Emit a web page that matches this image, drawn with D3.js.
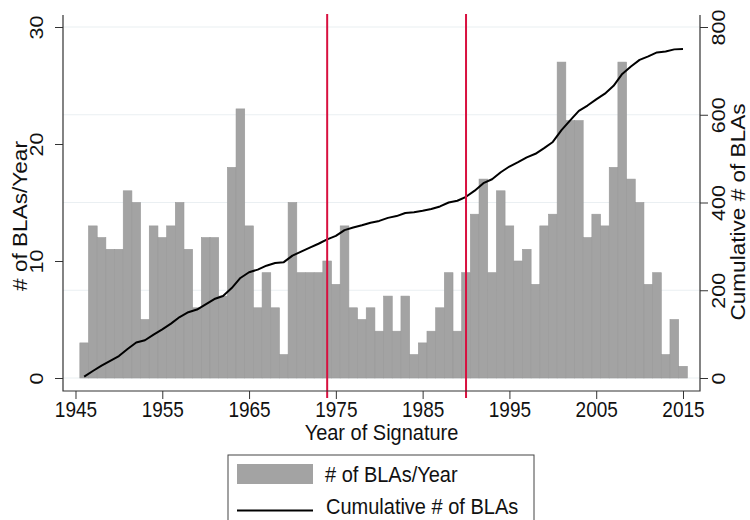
<!DOCTYPE html>
<html>
<head>
<meta charset="utf-8">
<script src="https://cdn.jsdelivr.net/npm/d3@7"></script>
<style>
   body { margin: 0; background: #fff; }
   text { font-family: "Liberation Sans", Arial, sans-serif; fill: #111; }
</style>
</head>
<body>
<div class="chart"></div>
<script>
// ======================================
// Data
// ======================================
var years = [1946, 1947, 1948, 1949, 1950, 1951, 1952, 1953, 1954, 1955,
   1956, 1957, 1958, 1959, 1960, 1961, 1962, 1963, 1964, 1965,
   1966, 1967, 1968, 1969, 1970, 1971, 1972, 1973, 1974, 1975,
   1976, 1977, 1978, 1979, 1980, 1981, 1982, 1983, 1984, 1985,
   1986, 1987, 1988, 1989, 1990, 1991, 1992, 1993, 1994, 1995,
   1996, 1997, 1998, 1999, 2000, 2001, 2002, 2003, 2004, 2005,
   2006, 2007, 2008, 2009, 2010, 2011, 2012, 2013, 2014, 2015];

var perYear = [3, 13, 12, 11, 11, 16, 15, 5, 13, 12,
   13, 15, 11, 6, 12, 12, 7, 18, 23, 13,
   6, 9, 6, 2, 15, 9, 9, 9, 10, 8,
   13, 6, 5, 6, 4, 7, 4, 7, 2, 3,
   4, 6, 9, 4, 9, 14, 17, 9, 16, 13,
   10, 11, 8, 13, 14, 27, 22, 22, 12, 14,
   13, 18, 27, 17, 15, 8, 9, 2, 5, 1];

var cumulative = [3, 16, 28, 39, 50, 66, 81, 86, 99, 111,
   124, 139, 150, 156, 168, 180, 187, 205, 228, 241,
   247, 256, 262, 264, 279, 288, 297, 306, 316, 324,
   337, 343, 348, 354, 358, 365, 369, 376, 378, 381,
   385, 391, 400, 404, 413, 427, 444, 453, 469, 482,
   492, 503, 511, 524, 538, 565, 587, 609, 621, 635,
   648, 666, 693, 710, 725, 733, 742, 744, 749, 750];

var xTicks = [1945, 1955, 1965, 1975, 1985, 1995, 2005, 2015];
var leftTicks = [0, 10, 20, 30];
var rightTicks = [0, 200, 400, 600, 800];
var eventYears = [1974, 1990];

// ======================================
// Svg dimensions and plot frame
// ======================================
var chart = {
   width: 750,
   height: 520,
   left: 63,
   right: 700,
   top: 15,
   bottom: 391
};

var svg = d3.select('.chart')
   .append('svg')
   .attr('width', chart.width)
   .attr('height', chart.height)
   ;

var x = d3.scaleLinear().domain([1943.56, 2016.96]).range([chart.left, chart.right]);
var yL = d3.scaleLinear().domain([0, 30]).range([378, 27]);
var yR = d3.scaleLinear().domain([0, 800]).range([378, 27]);
var barW = x(1) - x(0);

// the picture's glyphs are a bit taller than wide
var stretch = 1.13;

// ======================================
// gridlines (on the right axis)
// ======================================
svg.append('g')
   .selectAll('line')
   .data(rightTicks)
   .enter()
   .append('line')
      .attr('x1', chart.left)
      .attr('x2', chart.right)
      .attr('y1', function(d){return yR(d);})
      .attr('y2', function(d){return yR(d);})
      .attr('stroke', '#eaeff2')
      .attr('stroke-width', 1.2)
   ;

// ======================================
// bars
// ======================================
svg.append('g')
   .selectAll('rect')
   .data(perYear)
   .enter()
   .append('rect')
      .attr('x', function(d, i){return x(years[i]) - barW / 2;})
      .attr('y', function(d){return yL(d);})
      .attr('width', barW)
      .attr('height', function(d){return yL(0) - yL(d);})
      .attr('fill', '#a3a3a3')
      .attr('stroke', '#999')
      .attr('stroke-width', 0.6)
   ;

// ======================================
// cumulative line
// ======================================
var line = d3.line()
   .x(function(d, i){return x(years[i]);})
   .y(function(d){return yR(d);})
   ;

svg.append('path')
   .datum(cumulative)
   .attr('d', line)
   .attr('fill', 'none')
   .attr('stroke', '#000')
   .attr('stroke-width', 2)
   .attr('stroke-linejoin', 'round')
   ;

// ======================================
// red event lines
// ======================================
svg.append('g')
   .selectAll('line')
   .data(eventYears)
   .enter()
   .append('line')
      .attr('x1', function(d){return x(d);})
      .attr('x2', function(d){return x(d);})
      .attr('y1', 14)
      .attr('y2', 398)
      .attr('stroke', '#d8103f')
      .attr('stroke-width', 2)
   ;

// ======================================
// axes
// ======================================
var axisColor = '#333';

var xAxis = svg.append('g')
   .attr('transform', 'translate(0,' + chart.bottom + ')')
   .call(d3.axisBottom(x).tickValues(xTicks).tickFormat(d3.format('d')).tickSize(8).tickSizeOuter(0))
   ;
xAxis.select('.domain').remove();
xAxis.selectAll('line').attr('stroke', axisColor);
xAxis.selectAll('text')
   .attr('y', null)
   .attr('dy', null)
   .attr('transform', 'translate(0,26) scale(1,' + stretch + ')')
   .attr('font-size', '19px')
   .attr('font-family', null)
   .attr('fill', '#111')
   ;

var leftAxis = svg.append('g')
   .attr('transform', 'translate(' + chart.left + ',0)')
   .call(d3.axisLeft(yL).tickValues(leftTicks).tickSize(8))
   ;
leftAxis.select('.domain').remove();
leftAxis.selectAll('line').attr('stroke', axisColor);
leftAxis.selectAll('text')
   .attr('x', null)
   .attr('dy', null)
   .attr('transform', 'translate(-20,0) rotate(-90) scale(' + stretch + ',1)')
   .attr('text-anchor', 'middle')
   .attr('font-size', '19px')
   .attr('font-family', null)
   .attr('fill', '#111')
   ;

var rightAxis = svg.append('g')
   .attr('transform', 'translate(' + chart.right + ',0)')
   .call(d3.axisRight(yR).tickValues(rightTicks).tickSize(8))
   ;
rightAxis.select('.domain').remove();
rightAxis.selectAll('line').attr('stroke', axisColor);
rightAxis.selectAll('text')
   .attr('x', null)
   .attr('dy', null)
   .attr('transform', 'translate(25,0) rotate(-90) scale(' + stretch + ',1)')
   .attr('text-anchor', 'middle')
   .attr('font-size', '19px')
   .attr('font-family', null)
   .attr('fill', '#111')
   ;

// frame lines: left, bottom, right
svg.append('path')
   .attr('d', 'M' + chart.left + ',' + chart.top + 'V' + chart.bottom + 'H' + chart.right + 'V' + chart.top)
   .attr('fill', 'none')
   .attr('stroke', axisColor)
   .attr('stroke-width', 1.2)
   ;

// ======================================
// axis titles
// ======================================
svg.append('text')
   .text('Year of Signature')
   .attr('transform', 'translate(' + ((chart.left + chart.right) / 2) + ',440) scale(1,' + stretch + ')')
   .attr('text-anchor', 'middle')
   .attr('font-size', '20px')
   ;

svg.append('text')
   .text('# of BLAs/Year')
   .attr('transform', 'translate(27,216) rotate(-90) scale(' + stretch + ',1)')
   .attr('text-anchor', 'middle')
   .attr('font-size', '20px')
   ;

svg.append('text')
   .text('Cumulative # of BLAs')
   .attr('transform', 'translate(745,212) rotate(-90) scale(' + stretch + ',1)')
   .attr('text-anchor', 'middle')
   .attr('font-size', '20px')
   ;

// ======================================
// legend
// ======================================
var legend = svg.append('g');

legend.append('rect')
   .attr('x', 228)
   .attr('y', 455)
   .attr('width', 306)
   .attr('height', 80)
   .attr('fill', '#fff')
   .attr('stroke', '#444')
   .attr('stroke-width', 1)
   ;

legend.append('rect')
   .attr('x', 237)
   .attr('y', 464)
   .attr('width', 76)
   .attr('height', 20)
   .attr('fill', '#a3a3a3')
   ;

legend.append('line')
   .attr('x1', 237)
   .attr('x2', 313)
   .attr('y1', 510.5)
   .attr('y2', 510.5)
   .attr('stroke', '#000')
   .attr('stroke-width', 2)
   ;

legend.append('text')
   .text('# of BLAs/Year')
   .attr('transform', 'translate(325,482) scale(1,' + stretch + ')')
   .attr('font-size', '20px')
   ;

legend.append('text')
   .text('Cumulative # of BLAs')
   .attr('transform', 'translate(326,514) scale(1,' + stretch + ')')
   .attr('font-size', '20px')
   ;
</script>
</body>
</html>
